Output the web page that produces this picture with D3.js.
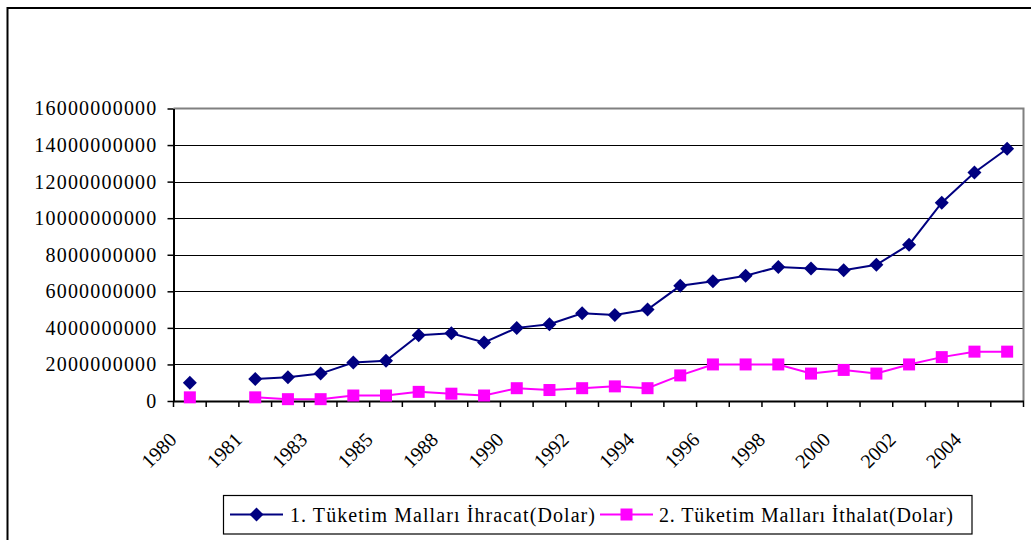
<!DOCTYPE html>
<html>
<head>
<meta charset="utf-8">
<script src="https://cdn.jsdelivr.net/npm/d3@7"></script>
<style>
  html, body { margin: 0; padding: 0; background: #fff; }
  svg { display: block; }
  text { font-family: "Liberation Serif", "Times New Roman", serif; fill: #000; }
</style>
</head>
<body>
<svg id="chart" width="1031" height="540"></svg>
<script>
const categories = ["1980","","1981","1982","1983","1984","1985","1987","1988","1989","1990","1991","1992","1993","1994","1995","1996","1997","1998","1999","2000","2001","2002","2003","2004","2005"];
const ihracat = [1.0e9, null, 1.2e9, 1.3e9, 1.5e9, 2.1e9, 2.2e9, 3.6e9, 3.7e9, 3.2e9, 4.0e9, 4.2e9, 4.8e9, 4.7e9, 5.0e9, 6.3e9, 6.55e9, 6.85e9, 7.33e9, 7.25e9, 7.15e9, 7.45e9, 8.55e9, 10.85e9, 12.5e9, 13.8e9];
const ithalat = [0.2e9, null, 0.2e9, 0.1e9, 0.1e9, 0.3e9, 0.3e9, 0.5e9, 0.4e9, 0.3e9, 0.7e9, 0.6e9, 0.7e9, 0.8e9, 0.7e9, 1.4e9, 2.0e9, 2.0e9, 2.0e9, 1.5e9, 1.7e9, 1.5e9, 2.0e9, 2.4e9, 2.7e9, 2.7e9];
const yTicks = [0, 2e9, 4e9, 6e9, 8e9, 10e9, 12e9, 14e9, 16e9];
const seriesNames = ["1. Tüketim Malları İhracat(Dolar)", "2. Tüketim Malları İthalat(Dolar)"];
const seriesColors = ["#000080", "#FF00FF"];

const svg = d3.select("#chart");
const pLeft = 173.5, pRight = 1023.5, pTop = 108.5, pBottom = 401;

// outer chart border
svg.append("rect").attr("x", 7.5).attr("y", 8).attr("width", 1040).attr("height", 545)
  .attr("fill", "none").attr("stroke", "#000").attr("stroke-width", 2);

const x = d3.scaleBand().domain(d3.range(categories.length)).range([pLeft, pRight]).padding(0);
const cx = i => x(i) + x.bandwidth() / 2;
const y = d3.scaleLinear().domain([0, 16e9]).range([pBottom, pTop]);

// gridlines
svg.append("g").selectAll("line").data(yTicks.filter(v => v > 0 && v < 16e9)).join("line")
  .attr("x1", pLeft).attr("x2", pRight)
  .attr("y1", d => Math.round(y(d)) + 0.5).attr("y2", d => Math.round(y(d)) + 0.5)
  .attr("stroke", "#000").attr("stroke-width", 1);

// plot border (top, right)
svg.append("path")
  .attr("d", `M${pLeft},${y(16e9)}H${pRight}V${pBottom}`)
  .attr("fill", "none").attr("stroke", "#808080").attr("stroke-width", 2);

// y axis
const yAxis = d3.axisLeft(y).tickValues(yTicks).tickFormat(d3.format("d")).tickSizeInner(6).tickSizeOuter(0).tickPadding(10);
const gy = svg.append("g").attr("transform", `translate(${pLeft},0)`).call(yAxis);
gy.select(".domain").attr("stroke", "#000").attr("stroke-width", 2);
gy.selectAll(".tick line").attr("stroke", "#000").attr("stroke-width", 1.5);
gy.selectAll(".tick text").attr("font-size", 20).attr("font-family", "Liberation Serif")
  .style("letter-spacing", "1.2px").attr("fill", "#000");

// x axis
const xAxis = d3.axisBottom(x).tickValues(d3.range(0, categories.length, 2))
  .tickFormat(i => categories[i]).tickSize(0).tickSizeOuter(0);
const gx = svg.append("g").attr("transform", `translate(0,${pBottom})`).call(xAxis);
gx.select(".domain").attr("stroke", "#000").attr("stroke-width", 2);
gx.selectAll(".tick text")
  .attr("font-size", 20).attr("font-family", "Liberation Serif").attr("fill", "#000")
  .attr("text-anchor", "end").attr("y", 0).attr("dy", 0)
  .attr("transform", "translate(-12,40) rotate(-45)");
// category boundary ticks
svg.append("g").selectAll("line").data(d3.range(categories.length + 1)).join("line")
  .attr("x1", i => i < categories.length ? x(i) : pRight)
  .attr("x2", i => i < categories.length ? x(i) : pRight)
  .attr("y1", pBottom).attr("y2", pBottom + 6)
  .attr("stroke", "#000").attr("stroke-width", 1.5);

// series
const allSeries = [ihracat, ithalat];
const line = d3.line().defined(d => d != null).x((d, i) => cx(i)).y(d => y(d));
allSeries.forEach((vals, si) => {
  svg.append("path").datum(vals).attr("d", line)
    .attr("fill", "none").attr("stroke", seriesColors[si]).attr("stroke-width", 2);
});
// markers
function drawMarker(g, si, px, py) {
  if (si === 0) {
    g.append("path").attr("d", "M0,-7L7,0L0,7L-7,0Z")
      .attr("transform", `translate(${px},${py})`).attr("fill", seriesColors[0]);
  } else {
    g.append("rect").attr("x", px - 6).attr("y", py - 6).attr("width", 12).attr("height", 12)
      .attr("fill", seriesColors[1]);
  }
}
allSeries.forEach((vals, si) => {
  const g = svg.append("g");
  vals.forEach((v, i) => { if (v != null) drawMarker(g, si, cx(i), y(v)); });
});

// legend
const lg = svg.append("g");
lg.append("rect").attr("x", 223.5).attr("y", 495.5).attr("width", 748.5).attr("height", 38.5)
  .attr("fill", "#fff").attr("stroke", "#000").attr("stroke-width", 1.2);
const legendItems = [
  { x1: 230, x2: 283, tx: 290, tl: 305 },
  { x1: 600, x2: 653, tx: 659, tl: 294 }
];
legendItems.forEach((it, si) => {
  lg.append("line").attr("x1", it.x1).attr("x2", it.x2).attr("y1", 514.5).attr("y2", 514.5)
    .attr("stroke", seriesColors[si]).attr("stroke-width", 2);
  drawMarker(lg, si, (it.x1 + it.x2) / 2, 514.5);
  lg.append("text").attr("x", it.tx).attr("y", 521.5).attr("font-size", 20)
    .attr("textLength", it.tl).attr("lengthAdjust", "spacing")
    .text(seriesNames[si]);
});
</script>
</body>
</html>
